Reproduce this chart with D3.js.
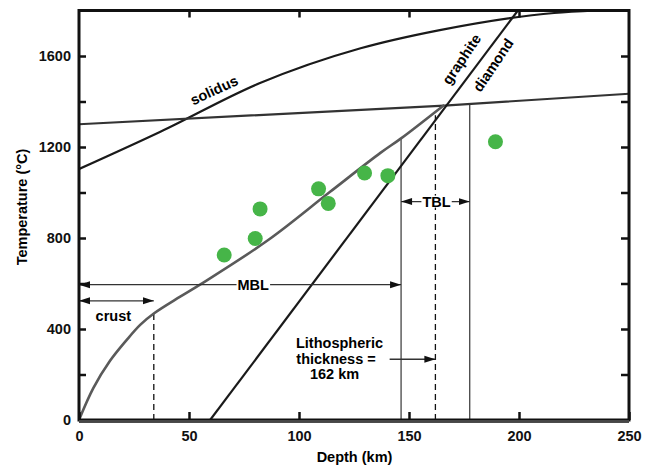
<!DOCTYPE html>
<html>
<head>
    <meta charset="utf-8">
    <title>Geotherm vs depth</title>
    <script src="https://cdnjs.cloudflare.com/ajax/libs/d3/7.8.5/d3.min.js"></script>
    <style>
        body { margin: 0; background: #fff; }
        text { font-family: "Liberation Sans", Arial, Helvetica, sans-serif; font-weight: bold; }
    </style>
</head>
<body>
<svg id="chart" width="662" height="468"></svg>
<script>
    // depth (km) / temperature (degC)
    var geothermKm = [0, 6.5, 14.1, 21.7, 27.8, 34, 46, 55, 86, 114, 137, 146.4, 166];
    var geothermT  = [0, 140, 260, 352, 418, 468, 542, 595, 791, 1002, 1174, 1238, 1385];

    var solidusKm = [0, 37, 82, 128, 164, 216, 235];
    var solidusT  = [1103, 1267, 1480, 1634, 1714, 1789, 1800];

    var adiabatKm = [0, 166, 250];
    var adiabatT  = [1300, 1382, 1434];

    var graphiteKm = [59.6, 199.5];
    var graphiteT  = [0, 1800];

    var sampleKm = [66.0, 80.1, 82.3, 108.9, 113.3, 129.8, 140.4, 189.3];
    var sampleT  = [725, 798, 928, 1016, 952, 1086, 1074, 1223];

    var xTicks = [0, 50, 100, 150, 200, 250];
    var yTicks = [0, 200, 400, 600, 800, 1000, 1200, 1400, 1600];
    var yLabels = [0, 400, 800, 1200, 1600];

    var mbl = [0, 146.4], mblT = 595;
    var crust = [0, 34], crustT = 524;
    var tbl = [146.4, 177.6], tblT = 960;
    var litho = [141.2, 162], lithoT = 267;

    var svg = d3.select("#chart");
    var x = d3.scaleLinear().domain([0, 250]).range([79, 629]);
    var y = d3.scaleLinear().domain([0, 1800]).range([420, 10.5]);

    var defs = svg.append("defs");
    function head(id, dir) {
        var m = defs.append("marker")
            .attr("id", id)
            .attr("markerUnits", "userSpaceOnUse")
            .attr("markerWidth", 12).attr("markerHeight", 8)
            .attr("refX", dir > 0 ? 11 : 0).attr("refY", 4)
            .attr("orient", "auto");
        m.append("path")
            .attr("d", dir > 0 ? "M0,0.5 L11,4 L0,7.5 Z" : "M11,0.5 L0,4 L11,7.5 Z")
            .attr("fill", "#111");
    }
    head("ahEnd", 1);
    head("ahStart", -1);

    function zip(a, b) { return a.map(function (v, i) { return [v, b[i]]; }); }

    var line = d3.line()
        .x(function (d) { return x(d[0]); })
        .y(function (d) { return y(d[1]); });
    var curve = d3.line()
        .x(function (d) { return x(d[0]); })
        .y(function (d) { return y(d[1]); })
        .curve(d3.curveMonotoneX);
    var smooth = d3.line()
        .x(function (d) { return x(d[0]); })
        .y(function (d) { return y(d[1]); })
        .curve(d3.curveCatmullRom.alpha(0.5));

    var plot = svg.append("g");
    svg.append("clipPath").attr("id", "clip")
        .append("rect").attr("x", x(0)).attr("y", y(1800))
        .attr("width", x(250) - x(0)).attr("height", y(0) - y(1800));
    plot.attr("clip-path", "url(#clip)");

    // thin vertical markers
    var vlines = [
        { km: 146.4, top: 1238, dash: null },
        { km: 177.6, top: 1392, dash: null },
        { km: 162, top: 1340, dash: "6,4" },
        { km: 34, top: 468, dash: "6,4" }
    ];
    plot.selectAll(".vline").data(vlines).enter().append("line")
        .attr("x1", function (d) { return x(d.km); })
        .attr("x2", function (d) { return x(d.km); })
        .attr("y1", y(0))
        .attr("y2", function (d) { return y(d.top); })
        .attr("stroke", function (d) { return d.dash ? "#111" : "#444"; })
        .attr("stroke-width", 1.3)
        .attr("stroke-dasharray", function (d) { return d.dash; });

    plot.append("path").datum(zip(solidusKm, solidusT))
        .attr("d", curve).attr("fill", "none").attr("stroke", "#1a1a1a").attr("stroke-width", 2.2);
    plot.append("path").datum(zip(adiabatKm, adiabatT))
        .attr("d", line).attr("fill", "none").attr("stroke", "#333").attr("stroke-width", 2.2);
    plot.append("path").datum(zip(graphiteKm, graphiteT))
        .attr("d", line).attr("fill", "none").attr("stroke", "#1a1a1a").attr("stroke-width", 2.2);
    plot.append("path").datum(zip(geothermKm, geothermT))
        .attr("d", smooth).attr("fill", "none").attr("stroke", "#5a5a5a").attr("stroke-width", 2.6);

    // arrows
    function arrow(range, t, both) {
        plot.append("line")
            .attr("x1", x(range[0])).attr("x2", x(range[1]))
            .attr("y1", y(t)).attr("y2", y(t))
            .attr("stroke", "#333").attr("stroke-width", 1.3)
            .attr("marker-start", both ? "url(#ahStart)" : null)
            .attr("marker-end", "url(#ahEnd)");
    }
    arrow(mbl, mblT, true);
    arrow(crust, crustT, true);
    arrow(tbl, tblT, true);
    arrow(litho, lithoT, false);

    function boxed(txt, km, t) {
        var g = svg.append("g");
        var tx = g.append("text").attr("x", x(km)).attr("y", y(t)).attr("dy", "0.36em")
            .attr("text-anchor", "middle").attr("font-size", 14.5).text(txt);
        var bb = tx.node().getBBox();
        g.insert("rect", "text").attr("x", bb.x - 1).attr("y", y(t) - 6)
            .attr("width", bb.width + 2).attr("height", 12).attr("fill", "#fff");
    }
    boxed("MBL", 79.2, mblT);
    boxed("TBL", 162.5, tblT);

    // data points
    svg.selectAll(".pt").data(zip(sampleKm, sampleT)).enter().append("circle")
        .attr("cx", function (d) { return x(d[0]); })
        .attr("cy", function (d) { return y(d[1]); })
        .attr("r", 7.5)
        .attr("fill", "#46b548");

    // labels
    svg.append("text").attr("x", x(15.6)).attr("y", 315.5).attr("dy", "0.36em")
        .attr("text-anchor", "middle").attr("font-size", 14.5).text("crust");

    var lith = svg.append("text").attr("text-anchor", "middle").attr("font-size", 14.5);
    [["Lithospheric", 339.5, 342.7], ["thickness =", 336, 358.3], ["162 km", 334.5, 373.8]]
        .forEach(function (r) {
            lith.append("tspan").attr("x", r[1]).attr("y", r[2]).attr("dy", "0.36em").text(r[0]);
        });

    function rotated(txt, cx, cy, ang) {
        svg.append("text").attr("transform", "translate(" + cx + "," + cy + ") rotate(" + ang + ")")
            .attr("text-anchor", "middle").attr("dy", "0.36em").attr("font-size", 14.5).text(txt);
    }
    rotated("solidus", 214, 90, -25);
    rotated("graphite", 461.5, 59, -56);
    rotated("diamond", 493, 65, -56);

    // axes
    var fmtY = function (d) { return yLabels.indexOf(d) >= 0 ? d : ""; };
    var axLeft = svg.append("g").attr("transform", "translate(" + x(0) + ",0)")
        .call(d3.axisLeft(y).tickValues(yTicks).tickFormat(fmtY).tickSizeInner(-7).tickSizeOuter(0).tickPadding(8));
    var axRight = svg.append("g").attr("transform", "translate(" + x(250) + ",0)")
        .call(d3.axisRight(y).tickValues(yTicks.slice(1)).tickFormat("").tickSizeInner(-8).tickSizeOuter(0));
    var axBottom = svg.append("g").attr("transform", "translate(0," + y(0) + ")")
        .call(d3.axisBottom(x).tickValues(xTicks).tickSizeInner(-8).tickSizeOuter(0).tickPadding(11));
    var axTop = svg.append("g").attr("transform", "translate(0," + y(1800) + ")")
        .call(d3.axisTop(x).tickValues(xTicks.slice(1, 5)).tickFormat("").tickSizeInner(-7).tickSizeOuter(0));

    [axLeft, axRight, axBottom, axTop].forEach(function (a) {
        a.select(".domain").remove();
        a.selectAll(".tick line").attr("stroke", "#111").attr("stroke-width", 2.5);
        a.selectAll(".tick text").attr("font-size", 14.5).attr("fill", "#111")
            .style("font-family", "'Liberation Sans', Arial, sans-serif").style("font-weight", "bold");
    });
    axBottom.selectAll(".tick text").attr("dy", "0.71em");

    // frame
    svg.append("rect").attr("x", x(0)).attr("y", y(1800))
        .attr("width", x(250) - x(0)).attr("height", y(0) - y(1800))
        .attr("fill", "none").attr("stroke", "#111").attr("stroke-width", 3);
    svg.append("line").attr("x1", x(0)).attr("x2", x(250)).attr("y1", y(0) + 1).attr("y2", y(0) + 1)
        .attr("stroke", "#111").attr("stroke-width", 3.5);
    svg.append("line").attr("x1", x(0)).attr("x2", x(250)).attr("y1", y(0) + 1).attr("y2", y(0) + 1)
        .attr("stroke", "#999").attr("stroke-width", 0.8);

    svg.append("text").attr("x", 354.5).attr("y", 461.5).attr("text-anchor", "middle")
        .attr("font-size", 14.5).text("Depth (km)");
    svg.append("text").attr("transform", "translate(21.7,207) rotate(-90)")
        .attr("text-anchor", "middle").attr("dy", "0.36em").attr("font-size", 14.5).text("Temperature (°C)");
</script>
</body>
</html>
